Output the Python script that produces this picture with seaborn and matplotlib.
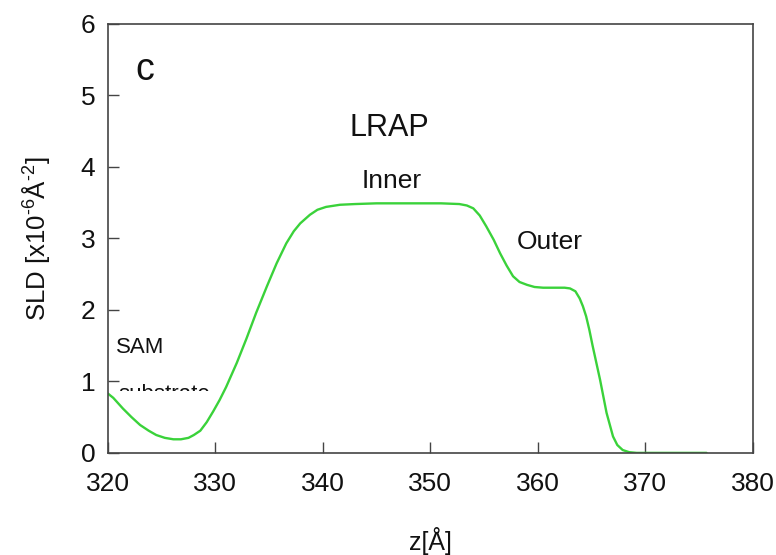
import numpy as np
import pandas as pd
import matplotlib
matplotlib.use("Agg")
import matplotlib.pyplot as plt
import seaborn as sns
from matplotlib.transforms import Bbox, TransformedBbox

# SLD profile
z = [320.0, 320.5, 321.4, 322.2, 323.0, 323.8, 324.5, 325.3, 326.1, 326.8,
     327.5, 328.0, 328.6, 329.2, 329.8, 330.4, 331.0, 331.5, 332.0, 332.9,
     333.8, 334.8, 335.7, 336.6, 337.3, 337.9, 338.8, 339.5, 340.3, 341.6,
     343.0, 345.0, 348.0, 351.0, 352.7, 353.4, 354.0, 354.6, 355.2, 355.9,
     356.5, 357.1, 357.7, 358.3, 359.0, 359.7, 360.5, 361.5, 362.5, 363.0,
     363.5, 363.9, 364.2, 364.5, 364.8, 365.1, 365.8, 366.4, 367.0, 367.4,
     367.9, 368.5, 369.2, 370.0, 375.7]
sld = [0.83, 0.77, 0.62, 0.50, 0.39, 0.31, 0.25, 0.21, 0.19, 0.19,
       0.21, 0.25, 0.31, 0.43, 0.58, 0.74, 0.92, 1.09, 1.26, 1.60,
       1.96, 2.33, 2.65, 2.93, 3.10, 3.21, 3.33, 3.40, 3.44, 3.47,
       3.48, 3.49, 3.49, 3.49, 3.48, 3.46, 3.42, 3.32, 3.17, 2.98,
       2.79, 2.62, 2.47, 2.39, 2.35, 2.32, 2.31, 2.31, 2.31, 2.30,
       2.26, 2.16, 2.05, 1.91, 1.72, 1.50, 1.02, 0.56, 0.23, 0.11,
       0.04, 0.01, 0.0, 0.0, 0.0]
xticks = [320, 330, 340, 350, 360, 370, 380]
yticks = [0, 1, 2, 3, 4, 5, 6]

sns.set_theme(style="white")
plt.rcParams['font.family'] = ['Liberation Sans', 'DejaVu Sans']
plt.rcParams['mathtext.fontset'] = 'custom'
plt.rcParams['mathtext.rm'] = 'Liberation Sans'
plt.rcParams['text.color'] = '#111111'

df = pd.DataFrame({'z': z, 'sld': sld})

fig = plt.figure(figsize=(7.76, 5.55), dpi=100)
ax = fig.add_axes([0.139, 0.184, 0.831, 0.773])
sns.lineplot(data=df, x='z', y='sld', ax=ax, color='#3ad23a', lw=1.7, sort=False)

ax.set_xlim(320, 380)
ax.set_ylim(0, 6)
ax.set_xticks(xticks)
ax.set_yticks(yticks)
for s in ax.spines.values():
    s.set_color('#444444')
    s.set_linewidth(1.2)
ax.tick_params(axis='both', direction='in', length=8, width=1, color='#444444',
               labelsize=19, labelcolor='#111111', bottom=True, left=True)
ax.tick_params(axis='x', pad=14)
ax.tick_params(axis='y', pad=9)

ax.set_xlabel('z[Å]', fontsize=18, labelpad=22, color='#111111')
ax.set_ylabel(r'SLD [x10$^{\text{-6}}$Å$^{\text{-2}}$]', fontsize=18.5, labelpad=20,
              color='#111111')

ax.text(323.4, 5.36, 'c', fontsize=27, ha='center', va='center')
ax.text(346.2, 4.55, 'LRAP', fontsize=22, ha='center', va='center')
ax.text(346.4, 3.80, 'Inner', fontsize=19, ha='center', va='center')
ax.text(361.1, 2.95, 'Outer', fontsize=19, ha='center', va='center')
ax.text(323.0, 1.48, 'SAM', fontsize=16, ha='center', va='center')
sub = ax.text(321.0, 0.96, 'substrate', fontsize=16, ha='left', va='top', clip_on=True)
sub.set_clip_box(TransformedBbox(Bbox([[320, 0.86], [340, 2.0]]), ax.transData))

fig.savefig('out.png', dpi=100)
